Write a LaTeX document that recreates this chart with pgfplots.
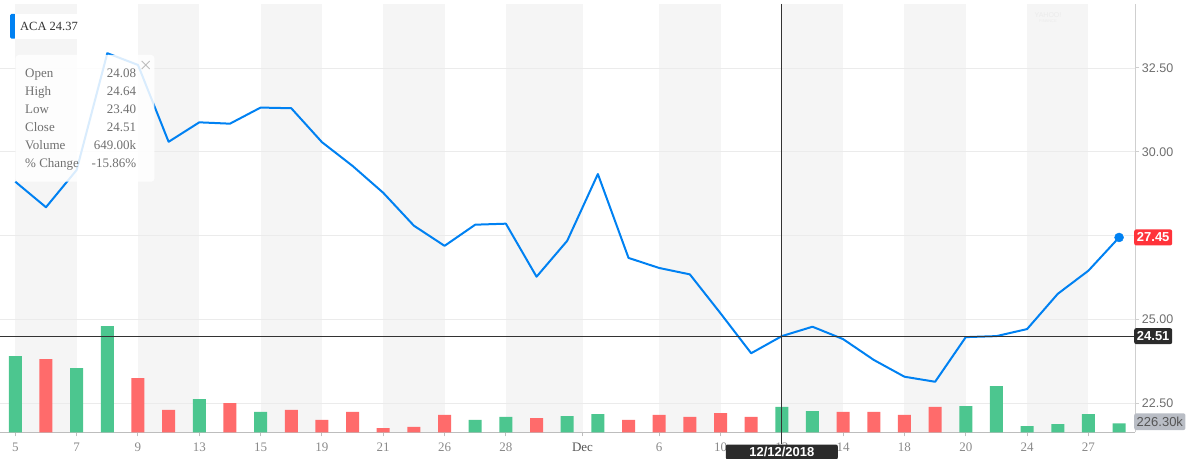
\documentclass[border=0pt]{standalone}
\usepackage{fontspec}
\setmainfont{Liberation Serif}
\newfontfamily\sans{Liberation Sans}
\usepackage{pgfplots}
\pgfplotsset{compat=1.18}
\usepackage{pgfplotstable}

\definecolor{yblue}{HTML}{0081F2}
\definecolor{ygreen}{HTML}{4CC68F}
\definecolor{yred}{HTML}{FF6B6B}
\definecolor{bandc}{HTML}{F5F5F5}
\definecolor{gridc}{HTML}{EBEBEB}
\definecolor{axisc}{HTML}{BDBDBD}
\definecolor{axisr}{HTML}{CFCFCF}
\definecolor{ticklab}{HTML}{6E6E6E}
\definecolor{xticklab}{HTML}{8A8A8A}
\definecolor{decc}{HTML}{555555}
\definecolor{boxdark}{HTML}{2B2B2B}
\definecolor{crossc}{HTML}{333333}
\definecolor{boxred}{HTML}{FF333A}
\definecolor{boxgray}{HTML}{B9BDC5}
\definecolor{tiptext}{HTML}{707070}
\definecolor{legtext}{HTML}{333333}

\pgfplotstableread{
i close
0 29.11
1 28.35
2 29.46
3 32.94
4 32.59
5 30.30
6 30.88
7 30.84
8 31.32
9 31.30
10 30.29
11 29.58
12 28.78
13 27.80
14 27.20
15 27.83
16 27.86
17 26.28
18 27.35
19 29.34
20 26.84
21 26.54
22 26.35
23 25.19
24 24.00
25 24.51
26 24.79
27 24.42
28 23.80
29 23.30
30 23.15
31 24.48
32 24.51
33 24.72
34 25.77
35 26.46
36 27.45
}\price

\pgfplotstableread{
i vol
0 1953
2 1646
3 2721
6 852
8 520
15 315
16 392
18 417
19 468
25 649
26 545
31 673
32 1185
33 161
34 212
35 468
36 226
}\volup

\pgfplotstableread{
i vol
1 1876
4 1390
5 571
7 750
9 571
10 315
11 520
12 110
13 136
14 443
17 366
20 315
21 443
22 392
23 494
24 392
27 520
28 520
29 443
30 648
}\voldown

\pgfplotsset{
  base/.style={scale only axis, width=1135pt, height=428.3pt,
    at={(0pt,25.7pt)}, anchor=south west, xmin=-0.5, xmax=36.52},
}

\begin{document}
\begin{tikzpicture}
% ---- axis 1: bands, grid, ticks
\begin{axis}[base,
  ymin=21.644, ymax=34.406,
  axis on top,
  axis x line*=bottom, axis y line*=right,
  x axis line style={draw=axisc, line width=1.3pt},
  y axis line style={draw=axisr, line width=1pt},
  ymajorgrids, grid style={draw=gridc, line width=0.8pt},
  tick align=outside, major tick length=4pt,
  xtick style={draw=axisc, line width=1pt},
  ytick style={draw=axisr, line width=1pt},
  xtick={0,2,4,6,8,10,12,14,16,18.5,21,23,25,27,29,31,33,35},
  xticklabels={5,7,9,13,15,19,21,26,28,\textcolor{decc}{Dec},6,10,12,14,18,20,24,27},
  xticklabel style={font=\fontsize{13}{13}\selectfont, text=xticklab, anchor=base, inner sep=0pt, yshift=-15pt},
  ytick={22.5,25,27.5,30,32.5},
  yticklabels={22.50,25.00,{},30.00,32.50},
  yticklabel style={font=\sans\fontsize{12.5}{12.5}\selectfont, text=ticklab, anchor=west, inner sep=0pt, xshift=2.7pt},
]
\fill[bandc] (axis cs:0,21.644) rectangle (axis cs:2,34.406);
\fill[bandc] (axis cs:4,21.644) rectangle (axis cs:6,34.406);
\fill[bandc] (axis cs:8,21.644) rectangle (axis cs:10,34.406);
\fill[bandc] (axis cs:12,21.644) rectangle (axis cs:14,34.406);
\fill[bandc] (axis cs:16,21.644) rectangle (axis cs:18.5,34.406);
\fill[bandc] (axis cs:21,21.644) rectangle (axis cs:23,34.406);
\fill[bandc] (axis cs:25,21.644) rectangle (axis cs:27,34.406);
\fill[bandc] (axis cs:29,21.644) rectangle (axis cs:31,34.406);
\fill[bandc] (axis cs:33,21.644) rectangle (axis cs:35,34.406);
\end{axis}
% ---- axis 2: volume bars
\begin{axis}[base, hide axis, ymin=0, ymax=10964,
  ybar, bar width=13pt, bar shift=0pt]
\addplot[fill=ygreen, draw=none] table[x=i, y=vol]{\volup};
\addplot[fill=yred, draw=none] table[x=i, y=vol]{\voldown};
\end{axis}
% ---- axis 3: price line and annotations
\begin{axis}[base, hide axis, ymin=21.644, ymax=34.406, clip=false]
\addplot[yblue, line width=2pt, line join=round, mark=none] table[x=i, y=close]{\price};
\addplot[only marks, mark=*, mark size=4.5pt, mark options={fill=yblue, draw=yblue}] coordinates {(36,27.45)};
\draw[crossc, line width=0.9pt] (axis cs:-0.5,24.51) -- (axis cs:36.52,24.51);
\draw[crossc, line width=0.9pt] (axis cs:25,34.406) -- ([yshift=-12pt]axis cs:25,21.644);
\node[fill=boxred, text=white, font=\sans\bfseries\fontsize{13}{13}\selectfont, anchor=west,
  inner xsep=2.7pt, inner ysep=0pt, minimum height=16pt, rounded corners=2pt, xshift=-1pt]
  at (axis cs:36.52,27.45) {27.45};
\node[fill=boxdark, text=white, font=\sans\bfseries\fontsize{13}{13}\selectfont, anchor=west,
  inner xsep=2.7pt, inner ysep=0pt, minimum height=16pt, rounded corners=2pt, xshift=-1pt]
  at (axis cs:36.52,24.51) {24.51};
\node[fill=boxgray, text=decc, font=\sans\fontsize{13}{13}\selectfont, anchor=west,
  inner xsep=2.5pt, inner ysep=0pt, minimum height=16.7pt, rounded corners=2pt, xshift=-1pt]
  at (axis cs:36.52,21.96) {226.30k};
\node[fill=boxdark, text=white, font=\sans\bfseries\fontsize{13}{13}\selectfont, anchor=north,
  inner sep=0pt, minimum width=112pt, minimum height=15pt, rounded corners=2pt, yshift=-12pt]
  at (axis cs:25,21.644) {12/12/2018};
\end{axis}
% ---- legend
\fill[yblue, rounded corners=1.5pt] (10pt,419.3pt) rectangle (16pt,444pt);
\fill[white] (15pt,419.3pt) rectangle (77pt,444pt);
\node[anchor=base west, inner sep=0pt, text=legtext, font=\fontsize{12.5}{12.5}\selectfont] at (20pt,427pt) {ACA 24.37};
% ---- tooltip
\fill[white, opacity=0.85, rounded corners=3pt] (15.7pt,276.3pt) rectangle (154.3pt,403pt);
\draw[axisc, line width=0.8pt] (141.7pt,397pt) -- (149.7pt,389pt) (141.7pt,389pt) -- (149.7pt,397pt);
\begin{scope}[every node/.style={inner sep=0pt, text=tiptext, font=\fontsize{13}{13}\selectfont}]
\node[anchor=base west] at (25pt,380.7pt) {Open};
\node[anchor=base west] at (25pt,362.7pt) {High};
\node[anchor=base west] at (25pt,344.7pt) {Low};
\node[anchor=base west] at (25pt,326.7pt) {Close};
\node[anchor=base west] at (25pt,308.7pt) {Volume};
\node[anchor=base west] at (25pt,290.7pt) {\% Change};
\node[anchor=base east] at (136.3pt,380.7pt) {24.08};
\node[anchor=base east] at (136.3pt,362.7pt) {24.64};
\node[anchor=base east] at (136.3pt,344.7pt) {23.40};
\node[anchor=base east] at (136.3pt,326.7pt) {24.51};
\node[anchor=base east] at (136.3pt,308.7pt) {649.00k};
\node[anchor=base east] at (136.3pt,290.7pt) {-15.86\%};
\end{scope}
% ---- watermark
\node[inner sep=0pt, text=gridc, font=\sans\fontsize{7}{7}\selectfont] at (1048pt,443pt) {YAHOO!};
\node[inner sep=0pt, text=gridc, font=\sans\fontsize{4}{4}\selectfont] at (1048pt,436.5pt) {FINANCE};
\pgfresetboundingbox
\useasboundingbox (0pt,0pt) rectangle (1190pt,458pt);
\end{tikzpicture}
\end{document}
